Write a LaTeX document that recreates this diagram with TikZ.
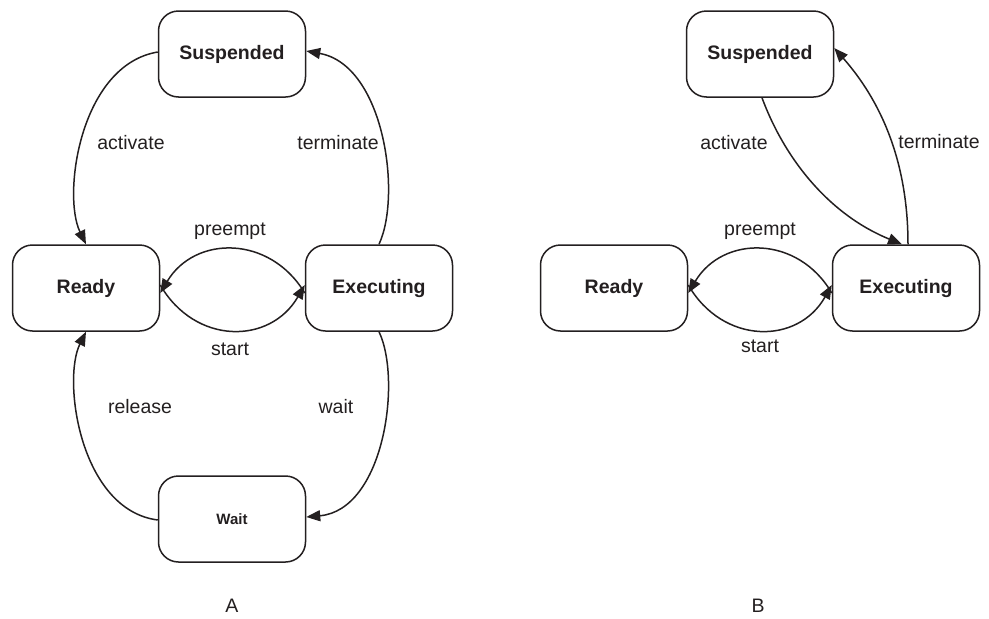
\documentclass[tikz,border=0pt]{standalone}
\usepackage{fontspec}
\setmainfont{Liberation Sans}
\usetikzlibrary{arrows.meta}
\definecolor{ink}{HTML}{231F20}
\begin{document}
\begin{tikzpicture}[x=1pt,y=-1pt,color=ink,
  state/.style={draw,line width=1.5pt,rounded corners=20pt,minimum width=147pt,minimum height=86pt,
    font=\fontsize{19.5}{23}\selectfont\bfseries,inner sep=0pt},
  smallstate/.style={state,font=\fontsize{15}{18}\selectfont\bfseries},
  arr/.style={line width=1.5pt,-{Triangle[length=14pt,width=11pt]}},
  lbl/.style={font=\fontsize{19.5}{23}\selectfont,inner sep=0pt}]
\useasboundingbox (0,0) rectangle (989,619);

% ---- diagram A ----
\node[state] (SA) at (232,54) {Suspended};
\node[state] (RA) at (86,288) {Ready};
\node[state] (EA) at (379,288) {Executing};
\node[smallstate] (WA) at (232,519) {Wait};

\draw[arr] ([yshift=2pt]SA.west) .. controls (80,65) and (62,195) .. (RA.north);
\draw[arr] (EA.north) .. controls (402,195) and (384,65) .. ([yshift=3pt]SA.east);
\draw[arr] ([yshift=-5pt]EA.west) .. controls (270,235) and (195,235) .. ([yshift=-5pt]RA.east);
\draw[arr] ([yshift=3pt]RA.east) .. controls (195,345) and (270,345) .. ([yshift=3pt]EA.west);
\draw[arr] (EA.south) .. controls (402,380) and (384,510) .. ([yshift=2pt]WA.east);
\draw[arr] ([yshift=-1pt]WA.west) .. controls (80,510) and (62,380) .. (RA.south);

\node[lbl] (la1) at (131,143) {activate};
\node[lbl] (lt1) at (338,143) {terminate};
\node[lbl] (lp1) at (230,231) {preempt};
\node[lbl] (ls1) at (230,349) {start};
\node[lbl] (lr1) at (140,407) {release};
\node[lbl] (lw1) at (336,407) {wait};
\node[lbl] (capA) at (232,606) {A};

% ---- diagram B ----
\node[state] (SB) at (760,54) {Suspended};
\node[state] (RB) at (614,288) {Ready};
\node[state] (EB) at (906,288) {Executing};

\draw[arr] ([xshift=2pt]SB.south) .. controls (785,160) and (830,215) .. ([xshift=-4pt]EB.north);
\draw[arr] ([xshift=2pt]EB.north) .. controls (908,160) and (880,100) .. ([yshift=6pt]SB.east);
\draw[arr] ([yshift=-5pt]EB.west) .. controls (798,235) and (723,235) .. ([yshift=-5pt]RB.east);
\draw[arr] ([yshift=3pt]RB.east) .. controls (723,345) and (798,345) .. ([yshift=3pt]EB.west);

\node[lbl] (la2) at (734,143) {activate};
\node[lbl] (lt2) at (939,142) {terminate};
\node[lbl] (lp2) at (760,231) {preempt};
\node[lbl] (ls2) at (760,346) {start};
\node[lbl] (capB) at (758,606) {B};
\end{tikzpicture}
\end{document}
